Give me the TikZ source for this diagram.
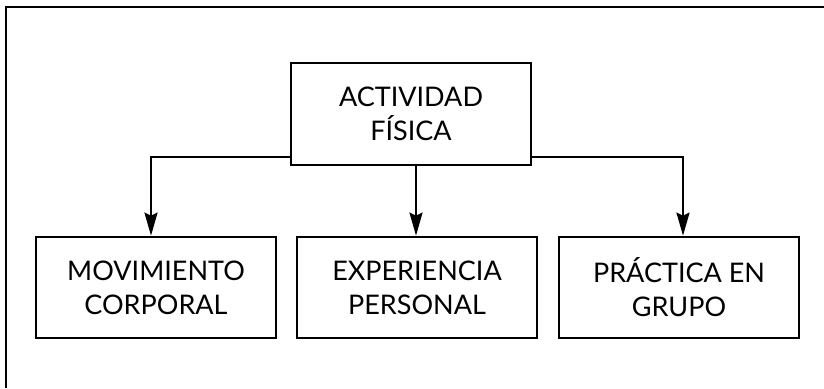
\documentclass[tikz,border=0pt]{standalone}
\usepackage{fontspec}
\setmainfont{Lato}
\usetikzlibrary{arrows.meta}
\begin{document}
\begin{tikzpicture}[x=1pt,y=-1pt,
  box/.style={draw=black,line width=2.7pt,minimum width=240pt,minimum height=101pt,
    inner sep=0pt,align=center,font=\fontsize{27}{34}\selectfont},
  arr/.style={line width=2.2pt,-{Stealth[length=23pt,width=13pt,inset=3pt]}}]
\useasboundingbox (0,0) rectangle (824,388);
\draw[line width=2.7pt] (6,388) -- (6,7) -- (824,7);
\node[box,minimum height=102pt] (top) at (411,114) {ACTIVIDAD\\FÍSICA};
\node[box] (mov) at (156,287.5) {MOVIMIENTO\\CORPORAL};
\node[box] (exp) at (417,287.5) {EXPERIENCIA\\PERSONAL};
\node[box] (pra) at (679,287.5) {PRÁCTICA EN\\GRUPO};
\coordinate (lt) at (151,157);
\coordinate (rt) at (683,157);
\coordinate (mt) at (416,165);
\draw[arr] (top.west |- lt) -| (lt) -- (lt |- mov.north);
\draw[arr] (top.east |- rt) -| (rt) -- (rt |- pra.north);
\draw[arr] (mt |- top.south) -- (mt |- exp.north);
\end{tikzpicture}
\end{document}
